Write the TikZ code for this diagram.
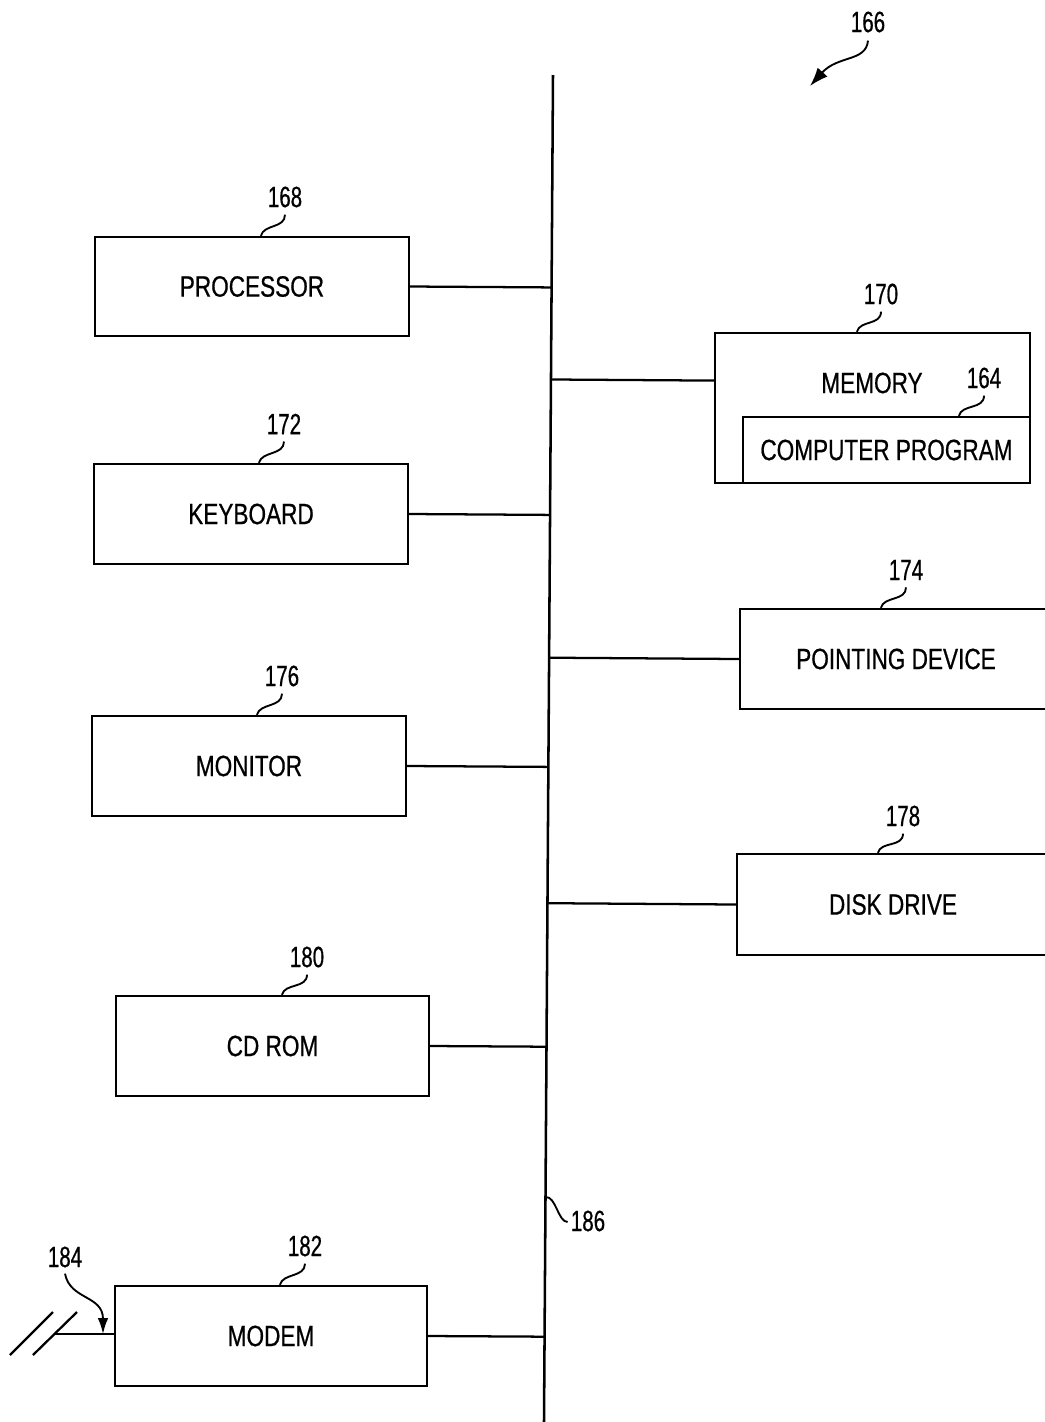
\documentclass[tikz,border=0pt]{standalone}
\usepackage{fontspec}
\setmainfont[FakeStretch=0.77,FakeBold=0.6]{Liberation Sans}
\newfontfamily\numfont[FakeStretch=0.7,FakeBold=0.6]{Liberation Sans}
\usetikzlibrary{arrows.meta,calc}
\begin{document}
\begin{tikzpicture}[x=0.75pt,y=-0.75pt,
  ln/.style={line width=1.7pt},
  lead/.style={line width=1.4pt},
  blk/.style 2 args={draw,line width=1.7pt,inner sep=0pt,
    minimum width=#1*0.75pt,minimum height=#2*0.75pt,
    font=\fontsize{22}{26}\selectfont},
  txt/.style={inner sep=0pt,font=\fontsize{22}{26}\selectfont},
  num/.style={inner sep=0pt,font=\numfont\fontsize{22}{26}\selectfont},
  tip/.style={-{Latex[length=12pt,width=8pt]}},
  bigtip/.style={-{Latex[length=14pt,width=10pt]}}]
\useasboundingbox (0,0) rectangle (1045,1422);
\clip (0,0) rectangle (1045,1422);
% bus
\coordinate (bt) at (553,75);
\coordinate (bb) at (544,1422);
\draw[line width=1.9pt] (bt) -- (bb);
% left blocks
\node[blk={314}{99}] (proc) at (252,286.5) {PROCESSOR};
\node[blk={314}{100}] (kbd) at (251,514) {KEYBOARD};
\node[blk={314}{100}] (mon) at (249,766) {MONITOR};
\node[blk={313}{100}] (cd) at (272.5,1046) {CD ROM};
\node[blk={312}{100}] (modem) at (271,1336) {MODEM};
% right blocks
\node[blk={315}{150}] (mem) at (872.5,408) {};
\node[txt] (memt) at (872,383) {MEMORY};
\node[blk={287}{66}] (prog) at (886.5,450) {COMPUTER PROGRAM};
\node[blk={312}{100}] (pd) at (896,659) {POINTING DEVICE};
\node[blk={312}{101}] (dd) at (893,904.5) {DISK DRIVE};
% connectors to bus
\foreach \b in {proc,kbd,mon,cd,modem}
  \draw[ln] (\b.east) -- ($(bt)!(\b.east)!(bb)$);
\coordinate (memc) at ($(mem.north west)!0.32!(mem.south west)$);
\draw[ln] (memc) -- ($(bt)!(memc)!(bb)$);
\foreach \b in {pd,dd}
  \draw[ln] (\b.west) -- ($(bt)!(\b.west)!(bb)$);
% reference numerals
\node[num] (l168) at (285,197) {168};
\node[num] (l172) at (284,424) {172};
\node[num] (l176) at (282,676) {176};
\node[num] (l180) at (307,957) {180};
\node[num] (l182) at (305,1246) {182};
\node[num] (l170) at (881,294) {170};
\node[num] (l164) at (984,378) {164};
\node[num] (l174) at (906,570) {174};
\node[num] (l178) at (903,816) {178};
\node[num] (l166) at (868,22) {166};
\node[num] (l186) at (588,1221) {186};
\node[num] (l184) at (65,1257) {184};
% leaders
\foreach \b/\l/\o in {proc/l168/167, kbd/l172/166, mon/l176/166, cd/l180/167, modem/l182/166,
                      mem/l170/143, prog/l164/217, pd/l174/142, dd/l178/142}{
  \coordinate (s) at ($(\b.north west)+(\o,0)$);
  \coordinate (e) at ($(\l.south)+(0,7)$);
  \draw[lead] (s) .. controls ($(s)+(3,-12)$) and ($(e)+(0,14)$) .. (e);
}
% 166 arrow
\coordinate (a166) at (810,86);
\draw[lead,bigtip] ($(l166.south)+(0,8)$) .. controls (866,62) and (838,55) .. (a166);
% 186 leader
\coordinate (b186) at ($(bt)!0.833!(bb)$);
\draw[lead] (b186) .. controls (556,1196) and (558,1222) .. ($(l186.west)+(-3,1)$);
% modem line with break and 184
\coordinate (lend) at (55,1334);
\draw[ln] (lend) -- (lend -| modem.west);
\coordinate (a184) at (103,1334);
\draw[lead,tip] ($(l184.south)+(0,6)$) .. controls (70,1300) and (103,1295) .. (a184);
\coordinate (sa1) at (10,1355); \coordinate (sb1) at (53,1312);
\coordinate (sa2) at (33,1355); \coordinate (sb2) at (77,1312);
\draw[ln] (sa1) -- (sb1);
\draw[ln] (sa2) -- (sb2);
\end{tikzpicture}
\end{document}
